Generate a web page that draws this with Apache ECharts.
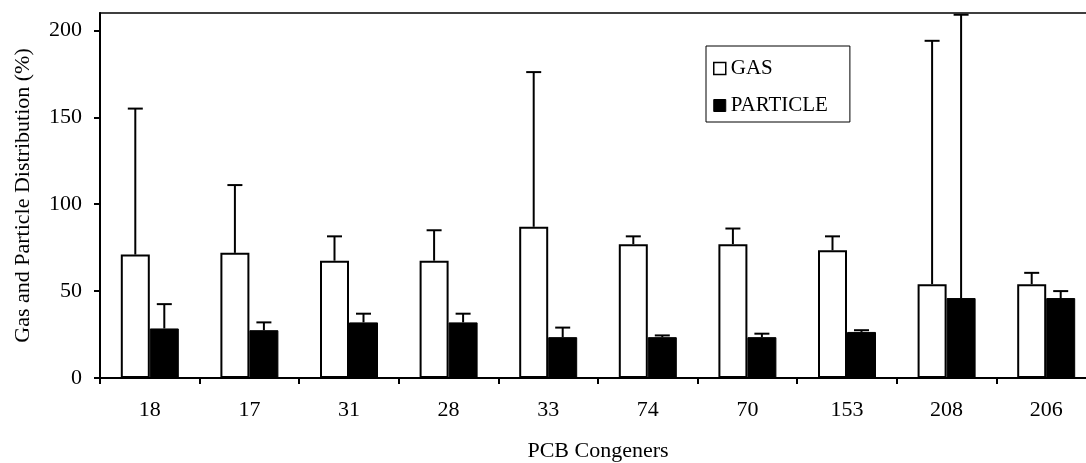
<!DOCTYPE html>
<html>
<head>
<meta charset="utf-8">
<script src="https://cdn.jsdelivr.net/npm/echarts@6/dist/echarts.min.js"></script>
<style>
html,body{margin:0;padding:0;background:#fff;}
#chart{width:1086px;height:463px;}
</style>
</head>
<body>
<div id="chart"></div>
<script>
const categories = ['18','17','31','28','33','74','70','153','208','206'];
const gasMean = [71, 72, 67.5, 67.5, 87, 77, 77, 73.5, 54, 54];
const gasSD = [84, 39, 14, 17.5, 89, 4.5, 9, 8, 140, 6.5];
const particleMean = [28.5, 27.5, 32, 32, 23.5, 23.5, 23.5, 26.5, 46, 46];
const particleSD = [14, 4.5, 5, 5, 5.5, 1, 2, 1, 163, 4];
const yTicks = [0, 50, 100, 150, 200];

const FONT = "'Liberation Serif', 'Times New Roman', serif";
const FS = 22;
const BAR_W = 29;
const CAP = 15;

function errData(mean, sd) {
  return mean.map((m, i) => [i, m, m + sd[i]]);
}
function errRender(offset) {
  return function (params, api) {
    const i = api.value(0);
    const base = api.coord([i, api.value(1)]);
    const top = api.coord([i, api.value(2)]);
    const x = base[0] + offset;
    const style = { stroke: '#000', lineWidth: 2 };
    return {
      type: 'group',
      children: [
        { type: 'line', shape: { x1: x, y1: base[1], x2: x, y2: top[1] }, style: style },
        { type: 'line', shape: { x1: x - CAP / 2, y1: top[1], x2: x + CAP / 2, y2: top[1] }, style: style }
      ]
    };
  };
}

const chart = echarts.init(document.getElementById('chart'), null, { renderer: 'canvas' });
chart.setOption({
  animation: false,
  backgroundColor: '#fff',
  textStyle: { fontFamily: FONT, color: '#000' },
  grid: {
    left: 100, top: 13, width: 996, height: 365,
    outerBoundsMode: 'none', containLabel: false,
    show: true, borderColor: '#000', borderWidth: 1.5, backgroundColor: 'transparent'
  },
  legend: {
    orient: 'vertical',
    left: 706, top: 46,
    padding: [12, 22, 6, 7],
    itemGap: 16,
    itemWidth: 12, itemHeight: 12,
    itemTextGap: 8,
    borderColor: '#000', borderWidth: 1,
    backgroundColor: '#fff',
    textStyle: { fontFamily: FONT, fontSize: 21, color: '#000' },
    data: [
      { name: 'GAS', icon: 'rect', itemStyle: { color: '#fff', borderColor: '#000', borderWidth: 1.5 } },
      { name: 'PARTICLE', icon: 'rect', itemStyle: { color: '#000', borderColor: '#000', borderWidth: 1 } }
    ]
  },
  xAxis: {
    type: 'category',
    data: categories,
    name: 'PCB Congeners',
    nameLocation: 'middle',
    nameGap: 62,
    nameTextStyle: { fontFamily: FONT, fontSize: FS, color: '#000' },
    axisLine: { lineStyle: { color: '#000', width: 2 } },
    axisTick: { show: true, length: 6, lineStyle: { color: '#000', width: 2 } },
    axisLabel: { fontFamily: FONT, fontSize: FS, color: '#000', margin: 21 },
    splitLine: { show: false }
  },
  yAxis: {
    type: 'value',
    min: 0, max: 210, interval: 50,
    name: 'Gas and Particle Distribution (%)',
    nameLocation: 'middle',
    nameGap: 66,
    nameTextStyle: { fontFamily: FONT, fontSize: FS, color: '#000' },
    axisLine: { show: true, lineStyle: { color: '#000', width: 2 } },
    axisTick: { show: true, length: 6, lineStyle: { color: '#000', width: 2 }, customValues: yTicks },
    axisLabel: { fontFamily: FONT, fontSize: FS, color: '#000', margin: 18, customValues: yTicks },
    splitLine: { show: false }
  },
  series: [
    {
      name: 'GAS', type: 'bar', data: gasMean,
      barWidth: BAR_W, barGap: '0%',
      itemStyle: { color: '#fff', borderColor: '#000', borderWidth: 2 },
      z: 2
    },
    {
      name: 'PARTICLE', type: 'bar', data: particleMean,
      barWidth: BAR_W, barGap: '0%',
      itemStyle: { color: '#000', borderColor: '#000', borderWidth: 1 },
      z: 2
    },
    {
      name: 'GAS err', type: 'custom', renderItem: errRender(-BAR_W / 2),
      data: errData(gasMean, gasSD), encode: { x: 0, y: [1, 2] }, z: 3, silent: true
    },
    {
      name: 'PARTICLE err', type: 'custom', renderItem: errRender(BAR_W / 2),
      data: errData(particleMean, particleSD), encode: { x: 0, y: [1, 2] }, z: 3, silent: true
    }
  ]
});
</script>
</body>
</html>
